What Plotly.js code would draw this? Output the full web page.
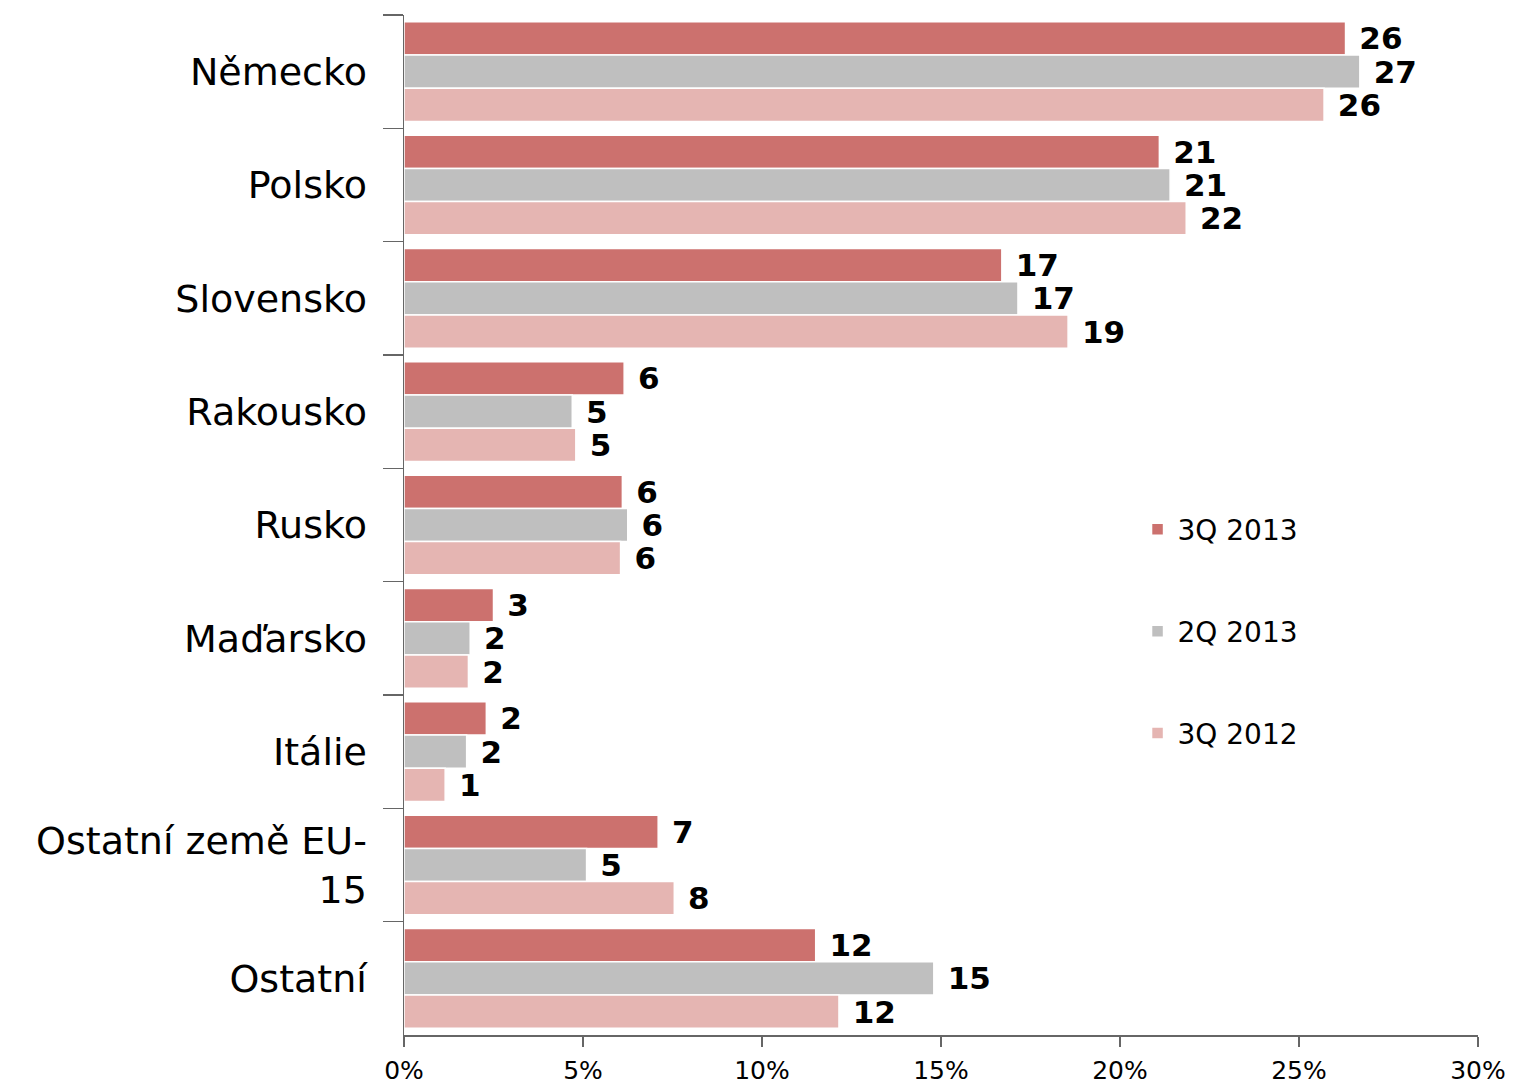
<!DOCTYPE html>
<html>
<head>
<meta charset="utf-8">
<script src="https://cdn.plot.ly/plotly-3.0.1.min.js"></script>
<style>html,body{margin:0;padding:0;background:#fff;}</style>
</head>
<body>
<div id="chart" style="width:1513px;height:1087px;"></div>
<script>
const categories = ["Německo", "Polsko", "Slovensko", "Rakousko", "Rusko", "Maďarsko", "Itálie", "Ostatní země EU-<br>15", "Ostatní"];
const q3_2013 = [26.3, 21.1, 16.7, 6.15, 6.1, 2.5, 2.3, 7.1, 11.5];
const q2_2013 = [26.7, 21.4, 17.15, 4.7, 6.25, 1.85, 1.75, 5.1, 14.8];
const q3_2012 = [25.7, 21.85, 18.55, 4.8, 6.05, 1.8, 1.15, 7.55, 12.15];
const seriesNames = ["3Q 2013", "2Q 2013", "3Q 2012"];
const xTickVals = [0, 5, 10, 15, 20, 25, 30];
const xTickText = ["0%", "5%", "10%", "15%", "20%", "25%", "30%"];

const colors = ["#CC716E", "#BFBFBF", "#E5B5B2"];
const series = [q3_2013, q2_2013, q3_2012];

const traces = series.map((vals, i) => ({
  type: "bar",
  orientation: "h",
  name: seriesNames[i],
  legendgroup: "g" + i,
  y: categories,
  x: vals,
  marker: {color: colors[i], line: {color: "#ffffff", width: 1.5}},
  texttemplate: "\u00a0%{x:.0f}",
  textposition: "outside",
  constraintext: "none",
  cliponaxis: false,
  textfont: {family: "DejaVu Sans", size: 31, color: "#000", weight: "bold"},
  hoverinfo: "none"
}));

const layout = {
  width: 1513,
  height: 1087,
  margin: {l: 404, r: 35, t: 15, b: 52},
  paper_bgcolor: "#fff",
  plot_bgcolor: "#fff",
  barmode: "group",
  bargap: 0.12,
  bargroupgap: 0,
  font: {family: "DejaVu Sans", color: "#000"},
  xaxis: {
    range: [0, 30],
    tickvals: xTickVals,
    ticktext: xTickText,
    showgrid: false,
    zeroline: false,
    showline: true,
    linecolor: "#666",
    linewidth: 1.5,
    ticks: "outside",
    ticklen: 10,
    tickcolor: "#666",
    tickwidth: 1.5,
    ticklabelstandoff: 2,
    tickfont: {family: "DejaVu Sans", size: 25, color: "#000"}
  },
  yaxis: {
    autorange: "reversed",
    showgrid: false,
    zeroline: false,
    showline: true,
    linecolor: "#666",
    linewidth: 1.5,
    ticks: "outside",
    tickson: "boundaries",
    ticklen: 20,
    tickcolor: "#666",
    tickwidth: 1.5,
    ticklabelstandoff: 28,
    tickfont: {family: "DejaVu Sans", size: 38, color: "#000"}
  },
  showlegend: true,
  legend: {
    x: 0.683,
    y: 0.52,
    xanchor: "left",
    yanchor: "top",
    font: {family: "DejaVu Sans", size: 28, color: "#000"},
    tracegroupgap: 62.5,
    itemwidth: 30,
    bgcolor: "rgba(0,0,0,0)"
  }
};

Plotly.newPlot("chart", traces, layout, {displayModeBar: false, staticPlot: true});
</script>
</body>
</html>
